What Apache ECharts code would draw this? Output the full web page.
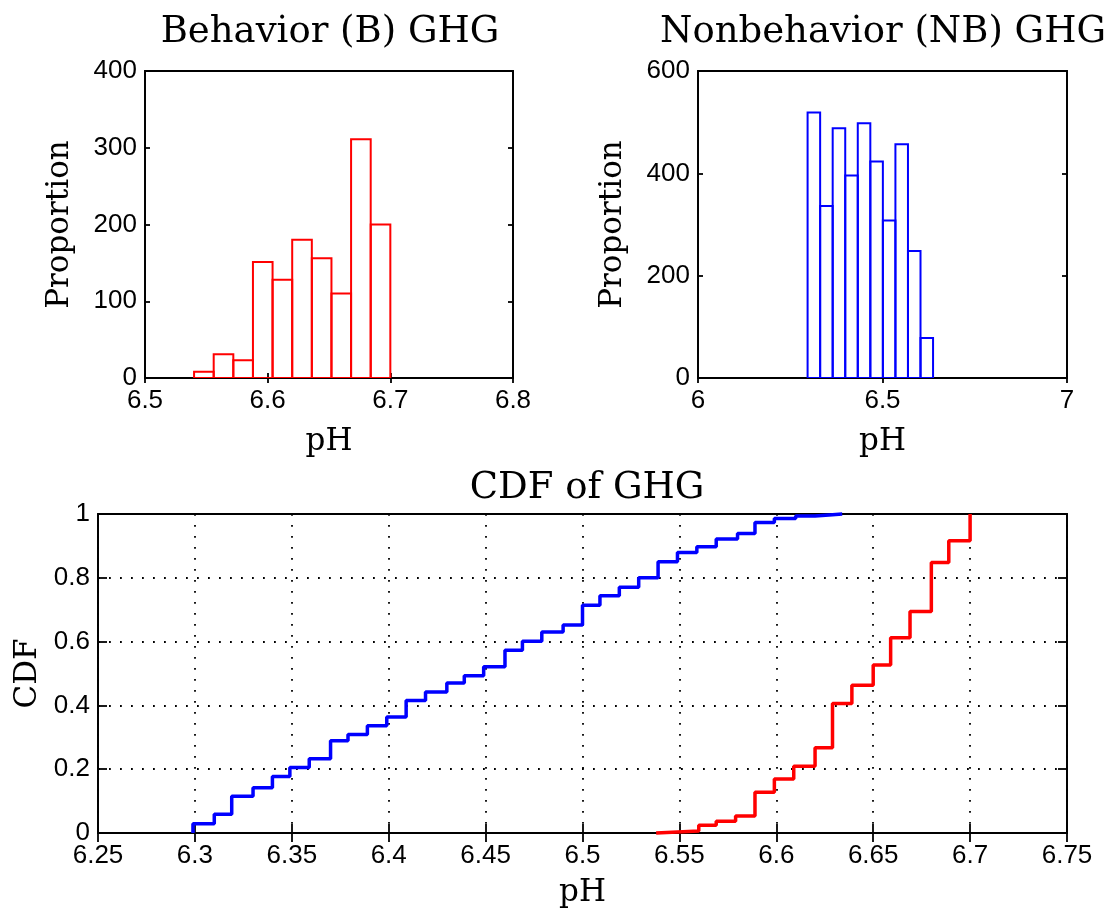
<!DOCTYPE html>
<html>
<head>
<meta charset="utf-8">
<script src="https://cdn.jsdelivr.net/npm/echarts@6/dist/echarts.min.js"></script>
<style>
html,body{margin:0;padding:0;background:#fff;}
#chart{width:1112px;height:918px;}
</style>
</head>
<body>
<div id="chart"></div>
<script>
// ---------- Data ----------
const titleB = 'Behavior (B) GHG';
const titleNB = 'Nonbehavior (NB) GHG';
const titleCDF = 'CDF of GHG';

const binEdgesB = [6.540, 6.556, 6.572, 6.588, 6.604, 6.620, 6.636, 6.652, 6.668, 6.684, 6.700];
const countsB   = [8, 31, 23, 151, 128, 180, 156, 110, 311, 200];

const binEdgesNB = [6.297, 6.331, 6.365, 6.399, 6.433, 6.467, 6.501, 6.535, 6.569, 6.603, 6.637];
const countsNB   = [519, 336, 488, 396, 498, 423, 308, 457, 248, 78];

const cdfNB_x = [6.299, 6.299, 6.310, 6.319, 6.330, 6.340, 6.349, 6.359, 6.370, 6.379, 6.389, 6.399,
                 6.409, 6.419, 6.430, 6.439, 6.449, 6.460, 6.469, 6.479, 6.490, 6.500, 6.509, 6.519,
                 6.529, 6.539, 6.549, 6.559, 6.569, 6.580, 6.589, 6.599, 6.610, 6.620, 6.629, 6.634];
const cdfNB_y = [0, 0.029, 0.059, 0.115, 0.142, 0.177, 0.205, 0.233, 0.289, 0.309, 0.336, 0.364,
                 0.415, 0.442, 0.470, 0.493, 0.521, 0.573, 0.601, 0.630, 0.652, 0.714, 0.744, 0.770,
                 0.800, 0.850, 0.879, 0.897, 0.922, 0.939, 0.973, 0.986, 0.994, 0.998, 1.0, 1.0];

const cdfB_x = [6.538, 6.538, 6.560, 6.569, 6.579, 6.589, 6.599, 6.609, 6.620, 6.629, 6.639,
                6.650, 6.659, 6.669, 6.680, 6.689, 6.700];
const cdfB_y = [0, 0.006, 0.024, 0.037, 0.053, 0.128, 0.169, 0.209, 0.267, 0.406, 0.463,
                0.527, 0.612, 0.694, 0.848, 0.916, 1.0];

const xTicksB = {min: 6.5, max: 6.8, step: 0.1};
const yTicksB = {min: 0, max: 400, step: 100};
const xTicksNB = {min: 6, max: 7, step: 0.5};
const yTicksNB = {min: 0, max: 600, step: 200};
const xTicksCDF = {min: 6.25, max: 6.75, step: 0.05};
const yTicksCDF = {min: 0, max: 1, step: 0.2};

const xLabel = 'pH';
const yLabelHist = 'Proportion';
const yLabelCDF = 'CDF';

// ---------- Styling ----------
const tickFont = "'Liberation Sans Narrow', 'Liberation Sans', Arial, sans-serif";
const textFont = "'DejaVu Serif', serif";
const tickSize = 26;
const labelSize = 31;
const titleSize = 37;

const chart = echarts.init(document.getElementById('chart'), null, {renderer: 'canvas'});

const grids = [
  {left: 145, top: 71, width: 368, height: 307},
  {left: 698, top: 71, width: 369, height: 307},
  {left: 98, top: 514, width: 969, height: 319}
].map(g => Object.assign({show: true, borderColor: '#000', borderWidth: 1.8, backgroundColor: '#fff'}, g));

function mainX(gi, t, name, nameGap, tickLen, split) {
  return {
    type: 'value', gridIndex: gi, position: 'bottom', min: t.min, max: t.max, interval: t.step,
    axisLine: {show: true, lineStyle: {color: '#000', width: 1.8}},
    axisTick: {show: true, inside: true, length: tickLen, lineStyle: {color: '#000', width: 1.8}},
    axisLabel: {show: true, margin: 10, color: '#000', fontFamily: tickFont, fontSize: tickSize,
                showMinLabel: true, showMaxLabel: true, hideOverlap: false},
    splitLine: {show: !!split, lineStyle: {color: '#000', width: 1.8, type: [1.8, 9.2]}},
    name: name, nameLocation: 'middle', nameGap: nameGap,
    nameTextStyle: {fontFamily: textFont, fontSize: labelSize, color: '#000'}
  };
}
function topX(gi, t, tickLen) {
  return {
    type: 'value', gridIndex: gi, position: 'top', min: t.min, max: t.max, interval: t.step,
    axisLine: {show: true, lineStyle: {color: '#000', width: 1.8}},
    axisTick: {show: true, inside: true, length: tickLen, lineStyle: {color: '#000', width: 1.8}},
    axisLabel: {show: false}, splitLine: {show: false}
  };
}
function mainY(gi, t, name, nameGap, tickLen, split) {
  return {
    type: 'value', gridIndex: gi, position: 'left', min: t.min, max: t.max, interval: t.step,
    axisLine: {show: true, lineStyle: {color: '#000', width: 1.8}},
    axisTick: {show: true, inside: true, length: tickLen, lineStyle: {color: '#000', width: 1.8}},
    axisLabel: {show: true, margin: 8, color: '#000', fontFamily: tickFont, fontSize: tickSize,
                showMinLabel: true, showMaxLabel: true},
    splitLine: {show: !!split, lineStyle: {color: '#000', width: 1.8, type: [1.8, 9.2]}},
    name: name, nameLocation: 'middle', nameGap: nameGap, nameRotate: 90,
    nameTextStyle: {fontFamily: textFont, fontSize: labelSize, color: '#000'}
  };
}
function rightY(gi, t, tickLen) {
  return {
    type: 'value', gridIndex: gi, position: 'right', min: t.min, max: t.max, interval: t.step,
    axisLine: {show: true, lineStyle: {color: '#000', width: 1.8}},
    axisTick: {show: true, inside: true, length: tickLen, lineStyle: {color: '#000', width: 1.8}},
    axisLabel: {show: false}, splitLine: {show: false}
  };
}

function histRender(color) {
  return function (params, api) {
    const p0 = api.coord([api.value(0), api.value(2)]);
    const p1 = api.coord([api.value(1), 0]);
    return {
      type: 'rect',
      shape: {x: p0[0], y: p0[1], width: p1[0] - p0[0], height: p1[1] - p0[1]},
      style: {fill: 'rgba(255,255,255,0)', stroke: color, lineWidth: 2}
    };
  };
}
const histDataB = countsB.map((c, i) => [binEdgesB[i], binEdgesB[i + 1], c]);
const histDataNB = countsNB.map((c, i) => [binEdgesNB[i], binEdgesNB[i + 1], c]);
const cdfDataNB = cdfNB_x.map((x, i) => [x, cdfNB_y[i]]);
const cdfDataB = cdfB_x.map((x, i) => [x, cdfB_y[i]]);

const titleStyle = {fontFamily: textFont, fontSize: titleSize, fontWeight: 'normal', color: '#000'};

const option = {
  animation: false,
  backgroundColor: '#fff',
  title: [
    {text: titleB, left: 325, top: 9, textAlign: 'center', textStyle: titleStyle},
    {text: titleNB, left: 878, top: 9, textAlign: 'center', textStyle: titleStyle},
    {text: titleCDF, left: 582, top: 465, textAlign: 'center', textStyle: titleStyle}
  ],
  grid: grids,
  xAxis: [
    mainX(0, xTicksB, xLabel, 48, 5, false),
    mainX(1, xTicksNB, xLabel, 48, 5, false),
    mainX(2, xTicksCDF, xLabel, 44, 9, true),
    topX(0, xTicksB, 5),
    topX(1, xTicksNB, 5),
    topX(2, xTicksCDF, 9)
  ],
  yAxis: [
    mainY(0, yTicksB, yLabelHist, 70, 5, false),
    mainY(1, yTicksNB, yLabelHist, 70, 5, false),
    mainY(2, yTicksCDF, yLabelCDF, 50, 9, true),
    rightY(0, yTicksB, 5),
    rightY(1, yTicksNB, 5),
    rightY(2, yTicksCDF, 9)
  ],
  series: [
    {type: 'custom', xAxisIndex: 0, yAxisIndex: 0, renderItem: histRender('#ff0000'),
     encode: {x: [0, 1], y: 2}, data: histDataB, clip: true},
    {type: 'custom', xAxisIndex: 1, yAxisIndex: 1, renderItem: histRender('#0000ff'),
     encode: {x: [0, 1], y: 2}, data: histDataNB, clip: true},
    {type: 'line', xAxisIndex: 2, yAxisIndex: 2, step: 'end', data: cdfDataNB, showSymbol: false,
     symbol: 'none', lineStyle: {color: '#0000ff', width: 3.5}, clip: false},
    {type: 'line', xAxisIndex: 2, yAxisIndex: 2, step: 'end', data: cdfDataB, showSymbol: false,
     symbol: 'none', lineStyle: {color: '#ff0000', width: 3.5}, clip: false}
  ]
};
chart.setOption(option);
</script>
</body>
</html>
